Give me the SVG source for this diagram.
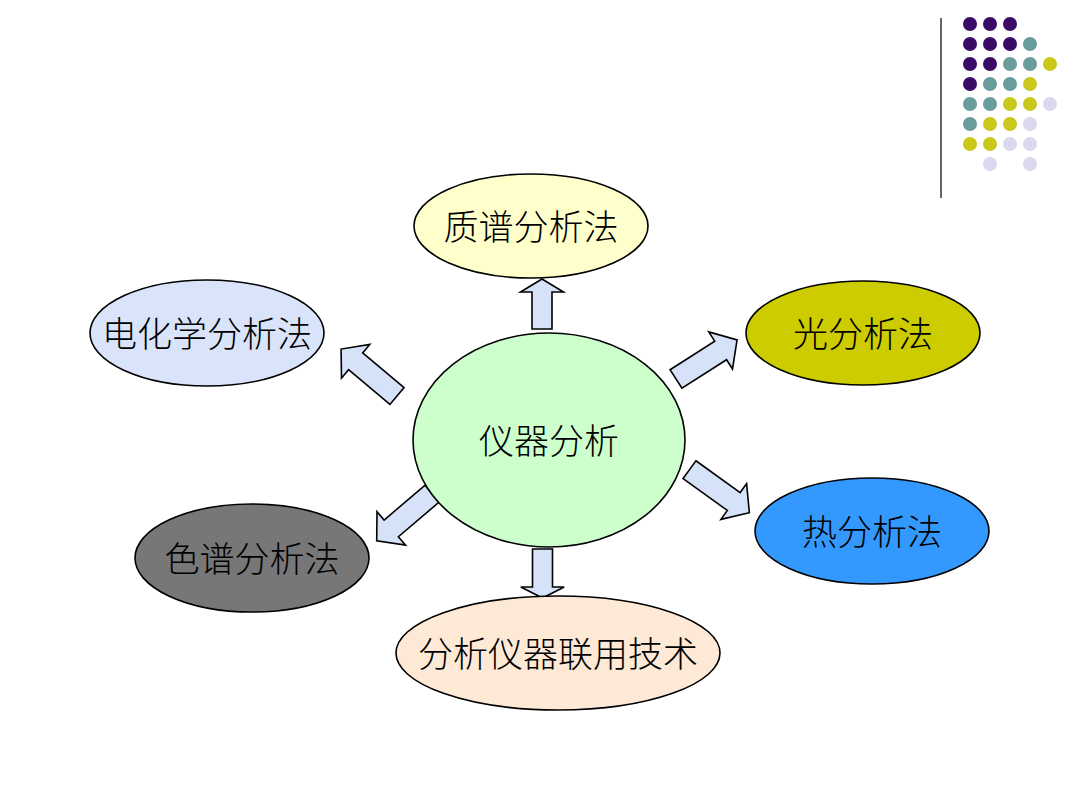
<svg xmlns="http://www.w3.org/2000/svg" width="1080" height="810" viewBox="0 0 1080 810">
<defs>
<style>
.node ellipse{stroke:#000;stroke-width:1.6}
.node text{font-family:"Noto Sans CJK SC","Noto Sans CJK JP",sans-serif;font-size:35px;fill:#000;text-anchor:middle;dominant-baseline:central;font-weight:300}
.arr{fill:#d6e2f7;stroke:#000;stroke-width:1.6;stroke-linejoin:miter}
.p{fill:#3b0b68}.t{fill:#6a9c9c}.y{fill:#c9c81b}.l{fill:#d9d8ee}
</style>
</defs>
<rect width="1080" height="810" fill="#fff"/>
<g id="decor">
<line x1="941" y1="18" x2="941" y2="198" stroke="#000" stroke-width="1.2"/>
<circle class="p" cx="970" cy="24" r="7"/><circle class="p" cx="990" cy="24" r="7"/><circle class="p" cx="1010" cy="24" r="7"/>
<circle class="p" cx="970" cy="44" r="7"/><circle class="p" cx="990" cy="44" r="7"/><circle class="p" cx="1010" cy="44" r="7"/><circle class="t" cx="1030" cy="44" r="7"/>
<circle class="p" cx="970" cy="64" r="7"/><circle class="p" cx="990" cy="64" r="7"/><circle class="t" cx="1010" cy="64" r="7"/><circle class="t" cx="1030" cy="64" r="7"/><circle class="y" cx="1050" cy="64" r="7"/>
<circle class="p" cx="970" cy="84" r="7"/><circle class="t" cx="990" cy="84" r="7"/><circle class="t" cx="1010" cy="84" r="7"/><circle class="y" cx="1030" cy="84" r="7"/>
<circle class="t" cx="970" cy="104" r="7"/><circle class="t" cx="990" cy="104" r="7"/><circle class="y" cx="1010" cy="104" r="7"/><circle class="y" cx="1030" cy="104" r="7"/><circle class="l" cx="1050" cy="104" r="7"/>
<circle class="t" cx="970" cy="124" r="7"/><circle class="y" cx="990" cy="124" r="7"/><circle class="y" cx="1010" cy="124" r="7"/><circle class="l" cx="1030" cy="124" r="7"/>
<circle class="y" cx="970" cy="144" r="7"/><circle class="y" cx="990" cy="144" r="7"/><circle class="l" cx="1010" cy="144" r="7"/><circle class="l" cx="1030" cy="144" r="7"/>
<circle class="l" cx="990" cy="164" r="7"/><circle class="l" cx="1030" cy="164" r="7"/>
</g>
<g id="connectors">
<polygon class="arr" transform="translate(542,329) rotate(-90)" points="0,-10 37,-10 37,-21.5 50,0 37,21.5 37,10 0,10"/>
<polygon class="arr" transform="translate(397,396) rotate(-140)" points="0,-11 54,-11 54,-22 73,0 54,22 54,11 0,11"/>
<polygon class="arr" transform="translate(676,379) rotate(-32.6)" points="0,-11 53,-11 53,-22 72.5,0 53,22 53,11 0,11"/>
<polygon class="arr" transform="translate(689.5,469.7) rotate(35.7)" points="0,-11 54.5,-11 54.5,-22 73.7,0 54.5,22 54.5,11 0,11"/>
<polygon class="arr" transform="translate(432,493.7) rotate(139.6)" points="0,-11 53.5,-11 53.5,-22 72.6,0 53.5,22 53.5,11 0,11"/>
<polygon class="arr" transform="translate(542.5,549) rotate(90)" points="0,-10 38,-10 38,-21.7 49,0 38,21.7 38,10 0,10"/>
</g>
<g id="center" class="node"><ellipse cx="549" cy="440" rx="136" ry="107" fill="#ccffcc"/><text x="549" y="438">仪器分析</text></g>
<g id="mass" class="node"><ellipse cx="531" cy="226" rx="117" ry="52" fill="#ffffcc"/><text x="531" y="224">质谱分析法</text></g>
<g id="electro" class="node"><ellipse cx="207" cy="333" rx="117" ry="53" fill="#d9e4fa"/><text x="207" y="331">电化学分析法</text></g>
<g id="optical" class="node"><ellipse cx="863" cy="333" rx="117" ry="52" fill="#cccc00"/><text x="863" y="331">光分析法</text></g>
<g id="thermal" class="node"><ellipse cx="872" cy="531" rx="117" ry="53" fill="#3399ff"/><text x="872" y="529">热分析法</text></g>
<g id="chroma" class="node"><ellipse cx="252" cy="558" rx="117" ry="54" fill="#777777"/><text x="252" y="556">色谱分析法</text></g>
<g id="hyphen" class="node"><ellipse cx="558" cy="653" rx="162" ry="57" fill="#fde9d6"/><text x="558" y="651">分析仪器联用技术</text></g>
</svg>
